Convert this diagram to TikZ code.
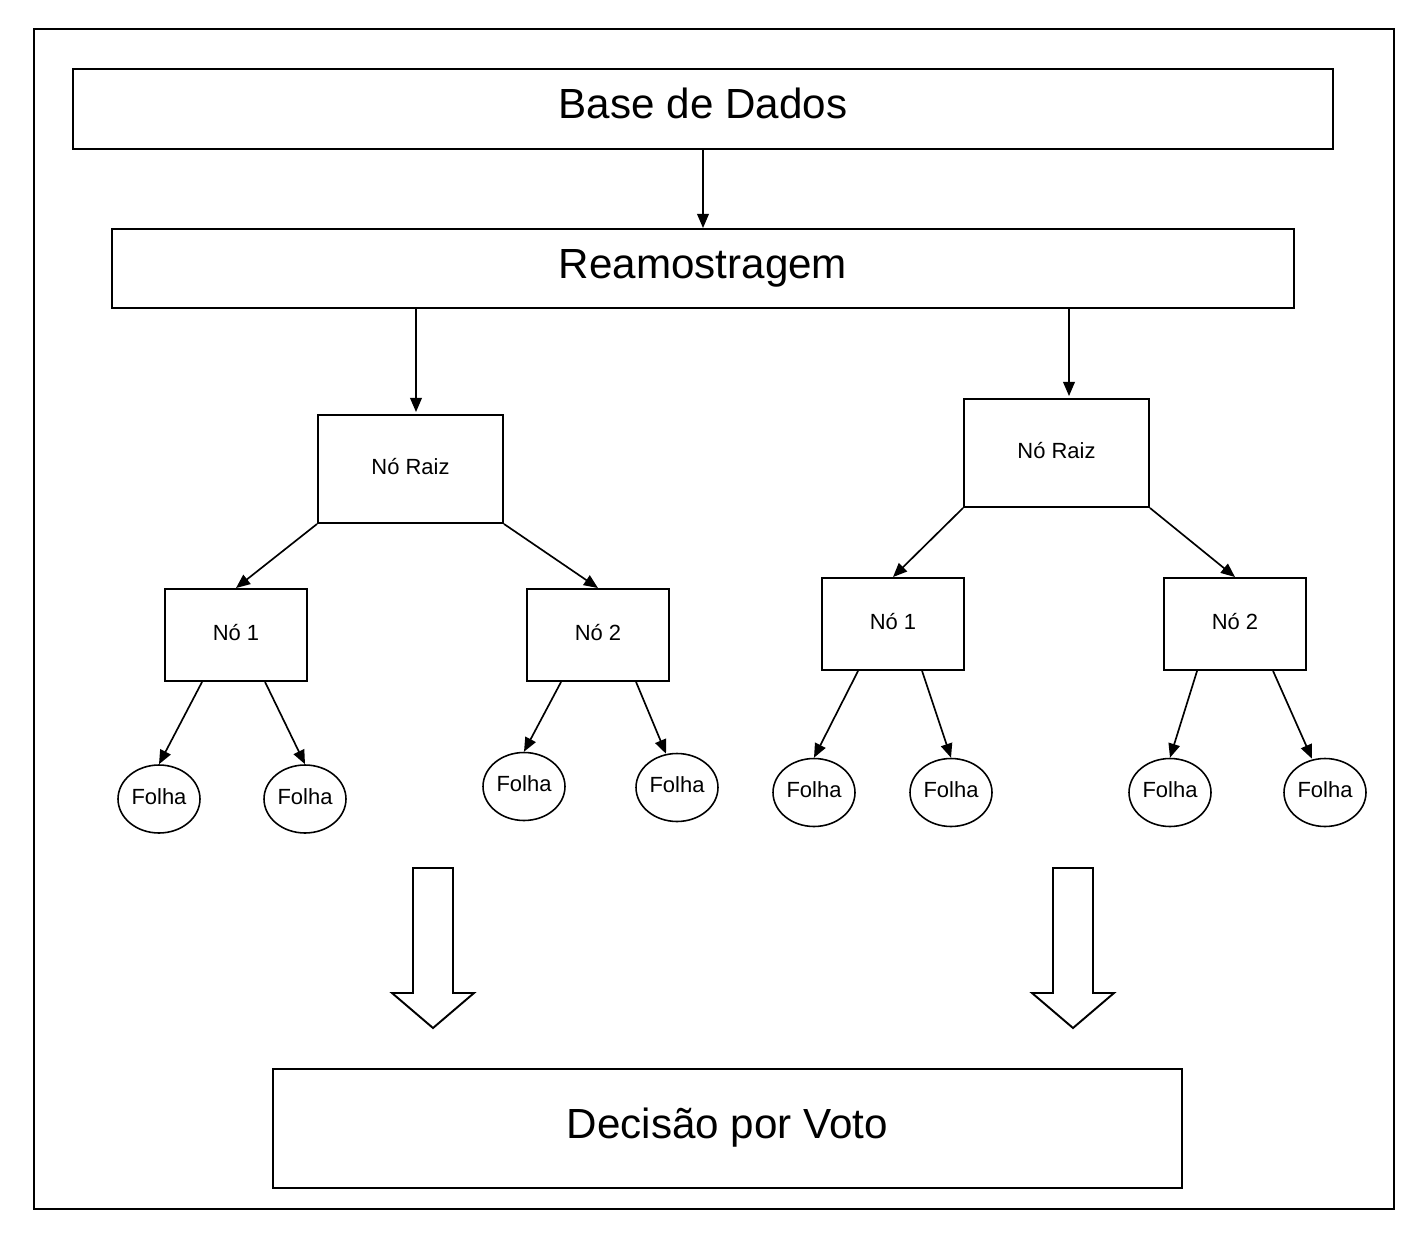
\documentclass[tikz,border=0pt]{standalone}
\usepackage{fontspec}
\setmainfont{Liberation Sans}
\usetikzlibrary{arrows.meta,calc,shapes.geometric}
\begin{document}
\begin{tikzpicture}[x=0.02cm,y=-0.02cm,
  frame/.style={draw,line width=1.1pt},
  bigbox/.style={draw,line width=1.1pt,inner sep=0pt,font=\fontsize{24}{28}\selectfont,text height=11pt,text depth=0pt},
  smallbox/.style={draw,line width=1.1pt,inner sep=0pt,minimum width=2.84cm,minimum height=1.84cm,font=\fontsize{12.5}{15}\selectfont,text height=5.7pt,text depth=0pt},
  leaf/.style={draw,ellipse,line width=0.9pt,inner sep=0pt,minimum width=1.64cm,minimum height=1.36cm,font=\fontsize{12.5}{15}\selectfont,text height=5.9pt,text depth=0pt},
  conn/.style={line width=0.95pt,-{Triangle[length=8pt,width=6.6pt]}},
  blockarrow/.style={draw,line width=1.1pt,line join=miter,fill=white}
]
\useasboundingbox (0,0) rectangle (1416,1240);
\draw[frame] (34,29) rectangle (1394,1209);

\node[bigbox,minimum width=25.2cm,minimum height=1.6cm] (base) at (703,109) {Base de Dados};
\node[bigbox,minimum width=23.64cm,minimum height=1.58cm] (ream) at (703,268.5) {Reamostragem};
\node[bigbox,minimum width=18.18cm,minimum height=2.38cm] (dec) at (727.5,1128.5) {Decisão por Voto};

\node[smallbox,minimum width=3.7cm,minimum height=2.16cm] (rootL) at (410.5,469) {Nó Raiz};
\node[smallbox,minimum width=3.7cm,minimum height=2.16cm] (rootR) at (1056.5,453) {Nó Raiz};

\node[smallbox] (n1L) at (236,635) {Nó 1};
\node[smallbox] (n2L) at (598,635) {Nó 2};
\node[smallbox] (n1R) at (893,624) {Nó 1};
\node[smallbox] (n2R) at (1235,624) {Nó 2};

\node[leaf] (f1) at (159,799) {Folha};
\node[leaf] (f2) at (305,799) {Folha};
\node[leaf] (f3) at (524,786.5) {Folha};
\node[leaf] (f4) at (677,787.5) {Folha};
\node[leaf] (f5) at (814,792.5) {Folha};
\node[leaf] (f6) at (951,792.5) {Folha};
\node[leaf] (f7) at (1170,792.5) {Folha};
\node[leaf] (f8) at (1325,792.5) {Folha};

\draw[conn] (base.south) -- (ream.north);
\draw[conn] ($(ream.south -| rootL.north)+(5.5,0)$) -- ($(rootL.north)+(5.5,-2)$);
\draw[conn] ($(ream.south -| rootR.north)+(12.5,0)$) -- ($(rootR.north)+(12.5,-2)$);

\draw[conn] (rootL.south west) -- (n1L.north);
\draw[conn] (rootL.south east) -- (n2L.north);
\draw[conn] (rootR.south west) -- (n1R.north);
\draw[conn] (rootR.south east) -- (n2R.north);

\draw[conn] ($(n1L.south west)+(38,0)$) -- (f1.north);
\draw[conn] ($(n1L.south west)+(101,0)$) -- (f2.north);
\draw[conn] ($(n2L.south west)+(35,0)$) -- (f3.north);
\draw[conn] ($(n2L.south west)+(110,0)$) -- ($(f4.north)+(-11,1)$);
\draw[conn] ($(n1R.south west)+(37,0)$) -- (f5.north);
\draw[conn] ($(n1R.south west)+(101,0)$) -- (f6.north);
\draw[conn] ($(n2R.south west)+(34,0)$) -- (f7.north);
\draw[conn] ($(n2R.south west)+(110,0)$) -- ($(f8.north)+(-13,1)$);

\draw[blockarrow] (413,868) -- (453,868) -- (453,993) -- (474,993) -- (433,1028) -- (392,993) -- (413,993) -- cycle;
\draw[blockarrow] (1053,868) -- (1093,868) -- (1093,993) -- (1114,993) -- (1073,1028) -- (1032,993) -- (1053,993) -- cycle;
\end{tikzpicture}
\end{document}
